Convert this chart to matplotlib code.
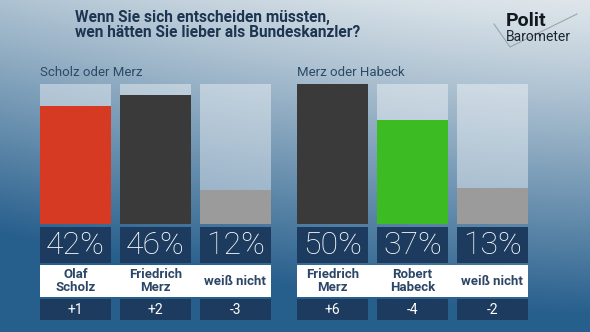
import numpy as np
import matplotlib.pyplot as plt
from matplotlib.patches import Rectangle

plt.rcParams['font.family'] = ['Roboto', 'DejaVu Sans']

# data
groups = ['Scholz oder Merz', 'Merz oder Habeck']
names = [['Olaf\nScholz', 'Friedrich\nMerz', 'weiß nicht'],
         ['Friedrich\nMerz', 'Robert\nHabeck', 'weiß nicht']]
values = [[42, 46, 12], [50, 37, 13]]
changes = [['+1', '+2', '-3'], ['+6', '-4', '-2']]
colors = [['#d63a22', '#3a3a3a', '#9b9b9b'], ['#3a3a3a', '#3cbb22', '#9b9b9b']]

W, H = 590, 332
fig = plt.figure(figsize=(W / 100, H / 100), dpi=100)

# background gradient
bg = fig.add_axes([0, 0, 1, 1])
yy, xx = np.mgrid[0:1:200j, 0:1:300j]
t = np.clip(yy * 1.05 + 0.3 * (1 - xx) ** 1.5 * (1 - 0.2 * yy), 0, 1) ** 1.1
light = np.array([0.87, 0.90, 0.92])
dark = np.array([0.15, 0.37, 0.55])
img = light[None, None, :] * (1 - t[..., None]) + dark[None, None, :] * t[..., None]
bg.imshow(img, aspect='auto', extent=[0, 1, 0, 1], origin='upper')
bg.set_xlim(0, 1)
bg.set_ylim(0, 1)
bg.axis('off')

# title
fig.text(75 / W, 1 - 10 / H, 'Wenn Sie sich entscheiden müssten,\nwen hätten Sie lieber als Bundeskanzler?',
         fontsize=11.2, fontweight='bold', color='#1d3550', va='top', ha='left', linespacing=1.0)

# logo
bg.plot([494 / W, 510 / W, 577 / W], [1 - 24 / H, 1 - 47 / H, 1 - 14 / H], color='#9aa6ad', lw=0.8)
fig.text(506 / W, 1 - 26 / H, 'Polit', fontsize=14, fontweight='bold', color='#111820', va='baseline')
fig.text(506 / W, 1 - 41 / H, 'Barometer', fontsize=10, color='#1c2630', va='baseline')

navy = '#1c3b5e'
lefts = [40, 297]
for g in range(2):
    L = lefts[g]
    ax = fig.add_axes([L / W, (H - 320) / H, 231 / W, (320 - 84) / H])
    x = np.arange(3)
    w = 71 / 80
    ax.bar(x, 50, width=w, color='white', alpha=0.4, lw=0)
    ax.bar(x, values[g], width=w, color=colors[g], lw=0)
    ax.bar(x, -12.86, bottom=-1.07, width=w, color=navy, lw=0)
    ax.add_patch(Rectangle((-w / 2, -26.07), 2 + w, 11.43, color='white', lw=0))
    ax.bar(x, -7.5, bottom=-26.8, width=w, color=navy, lw=0)
    for i in range(3):
        ax.text(x[i], -7.8, f'{values[g][i]}%', ha='center', va='center',
                fontsize=23, color='white', fontweight='light')
        ax.text(x[i], -20.4, names[g][i], ha='center', va='center', fontsize=9.5,
                fontweight='bold', color='#2c4666', linespacing=0.95)
        ax.text(x[i], -30.6, changes[g][i], ha='center', va='center',
                fontsize=10, color='white')
    ax.set_xlim(-w / 2, 2 + w / 2)
    ax.set_ylim(-34.29, 50)
    ax.axis('off')
    fig.text(L / W, 1 - 73 / H, groups[g], fontsize=9.5, color='#2c4a66', va='center', ha='left')

fig.savefig('out.png', dpi=100)
